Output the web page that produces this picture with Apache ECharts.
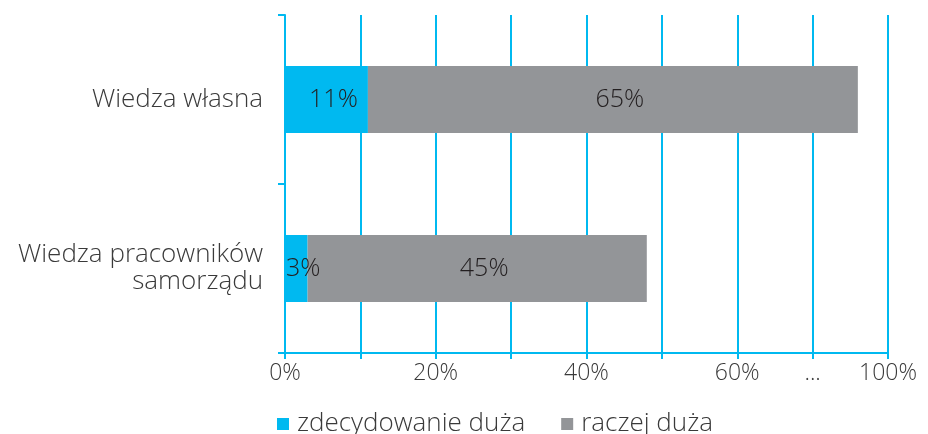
<!DOCTYPE html>
<html><head><meta charset="utf-8">
<script src="https://cdn.jsdelivr.net/npm/echarts@6/dist/echarts.min.js"></script>
<style>html,body{margin:0;padding:0;background:#fff}#c{width:928px;height:434px}</style>
</head><body><div id="c"></div>
<script>
const categories = ['Wiedza własna', 'Wiedza pracowników\nsamorządu'];
const seriesNames = ['zdecydowanie duża', 'raczej duża'];
const zdecydowanie = [11, 3];
const raczej = [65, 45];
// axis is broken: the 80 position is labelled as 100%
const tickLabels = {0: '0%', 20: '20%', 40: '40%', 60: '60%', 70: '...', 80: '100%'};

const BLUE = '#00b9f0', GRAY = '#939598';
const FONT = 'Open Sans';
const W = 300;
const chart = echarts.init(document.getElementById('c'));
const lbl = {
  show: true, position: 'inside', offset: [7, 0],
  formatter: p => p.value + '%', color: '#231f20', fontSize: 25, fontFamily: FONT, fontWeight: W
};
chart.setOption({
  animation: false,
  grid: {left: 285, right: 40, top: 15, bottom: 81, containLabel: false},
  legend: {
    top: 406, left: 272, itemWidth: 12, itemHeight: 12, itemGap: 36,
    icon: 'rect',
    textStyle: {fontSize: 26, fontFamily: FONT, fontWeight: W, color: '#3a3a3a', padding: [0, 0, 0, 3]},
    data: seriesNames
  },
  xAxis: {
    type: 'value', min: 0, max: 80, interval: 10,
    axisLine: {show: true, lineStyle: {color: BLUE, width: 2}},
    axisTick: {show: true, length: 6, lineStyle: {color: BLUE, width: 2}},
    splitLine: {show: true, lineStyle: {color: BLUE, width: 2}},
    axisLabel: {
      formatter: v => tickLabels[v] !== undefined ? tickLabels[v] : '',
      fontSize: 23, fontFamily: FONT, fontWeight: W, color: '#3a3a3a', margin: 9,
      showMaxLabel: true, showMinLabel: true
    }
  },
  yAxis: {
    type: 'category', inverse: true, data: categories,
    axisLine: {show: true, lineStyle: {color: BLUE, width: 2}},
    axisTick: {show: true, length: 7, lineStyle: {color: BLUE, width: 2}},
    axisLabel: {fontSize: 26, fontFamily: FONT, fontWeight: W, color: '#3a3a3a', margin: 22, lineHeight: 27}
  },
  series: [
    {name: seriesNames[0], type: 'bar', stack: 's', data: zdecydowanie, barWidth: 67,
     itemStyle: {color: BLUE}, label: lbl},
    {name: seriesNames[1], type: 'bar', stack: 's', data: raczej, barWidth: 67,
     itemStyle: {color: GRAY}, label: lbl}
  ]
});
</script></body></html>
